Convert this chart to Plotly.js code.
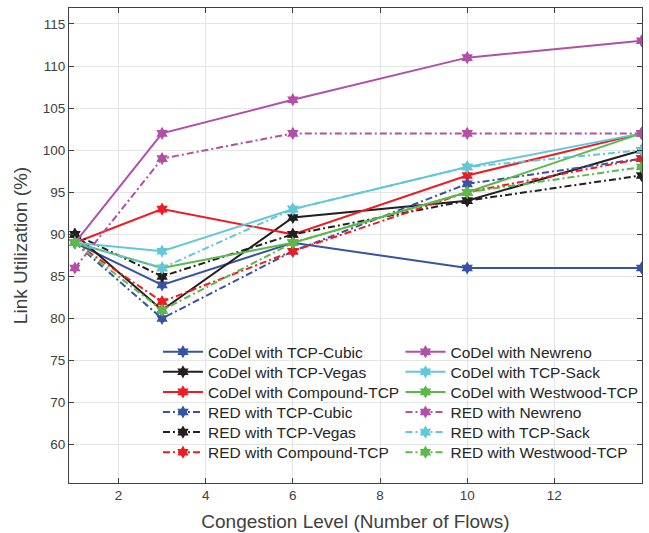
<!DOCTYPE html>
<html>
<head>
<meta charset="utf-8">
<script src="https://cdn.plot.ly/plotly-3.0.1.min.js"></script>
<style>
  html, body { margin: 0; padding: 0; background: #ffffff; }
  #chart { width: 649px; height: 533px; }
</style>
</head>
<body>
<div id="chart"></div>
<script>
// Congestion level (number of flows) on the x axis
const flows = [1, 3, 6, 10, 14];

// Link utilization (%) per queue discipline / TCP variant
const codelCubic    = [89, 84, 89, 86, 86];
const codelVegas    = [90, 81, 92, 94, 100];
const codelCompound = [89, 93, 90, 97, 102];
const redCubic      = [89, 80, 88, 96, 99];
const redVegas      = [90, 85, 90, 94, 97];
const redCompound   = [89, 82, 88, 95, 99];
const codelNewreno  = [89, 102, 106, 111, 113];
const codelSack     = [89, 88, 93, 98, 102];
const codelWestwood = [89, 86, 89, 95, 102];
const redNewreno    = [86, 99, 102, 102, 102];
const redSack       = [89, 86, 93, 98, 100];
const redWestwood   = [89, 81, 89, 95, 98];

// Y tick positions and the labels printed at them
const yTickVals = [65, 70, 75, 80, 85, 90, 95, 100, 105, 110, 115];
const yTickText = ['60', '70', '75', '80', '85', '90', '95', '100', '105', '110', '115'];
const xTickVals = [2, 4, 6, 8, 10, 12, 14];

const BLUE = '#3953a4', BLACK = '#231f20', RED = '#ed1c24';
const MAGENTA = '#b24fa6', CYAN = '#62c8d8', GREEN = '#5cb848';

const FONT = 'Arial, "Liberation Sans", Helvetica, sans-serif';

// Legend is laid out as two columns of six rows; each entry gets its own
// legend box so the row pitch can be tighter than Plotly's default.
const LEGEND_COL_X = [0.155, 0.5775];
const LEGEND_ROW0 = 0.2755;   // paper y of first row centre
const LEGEND_ROW_STEP = 0.0423; // paper units between rows

const seriesDefs = [
  ['CoDel with TCP-Cubic', codelCubic, BLUE, false],
  ['CoDel with TCP-Vegas', codelVegas, BLACK, false],
  ['CoDel with Compound-TCP', codelCompound, RED, false],
  ['RED with TCP-Cubic', redCubic, BLUE, true],
  ['RED with TCP-Vegas', redVegas, BLACK, true],
  ['RED with Compound-TCP', redCompound, RED, true],
  ['CoDel with Newreno', codelNewreno, MAGENTA, false],
  ['CoDel with TCP-Sack', codelSack, CYAN, false],
  ['CoDel with Westwood-TCP', codelWestwood, GREEN, false],
  ['RED with Newreno', redNewreno, MAGENTA, true],
  ['RED with TCP-Sack', redSack, CYAN, true],
  ['RED with Westwood-TCP', redWestwood, GREEN, true]
];

const traces = [];
const legends = {};
seriesDefs.forEach(function (d, i) {
  const legendId = i === 0 ? 'legend' : 'legend' + (i + 1);
  const col = Math.floor(i / 6), row = i % 6;
  traces.push({
    type: 'scatter',
    mode: 'lines+markers',
    name: d[0],
    x: flows,
    y: d[1],
    legend: legendId,
    line: { color: d[2], width: 2, dash: d[3] ? '7px,3px,2px,3px' : 'solid' },
    marker: { symbol: 'hexagram', size: 10, color: d[2], line: { width: 0 } },
    hoverinfo: 'x+y+name'
  });
  legends[legendId] = {
    bgcolor: 'rgba(0,0,0,0)',
    borderwidth: 0,
    font: { family: FONT, size: 15.5, color: '#262626' },
    xanchor: 'left',
    yanchor: 'middle',
    x: LEGEND_COL_X[col],
    y: LEGEND_ROW0 - row * LEGEND_ROW_STEP,
    itemwidth: 40
  };
});

const layout = Object.assign({
  width: 649,
  height: 533,
  paper_bgcolor: '#ffffff',
  plot_bgcolor: '#ffffff',
  margin: { l: 69, r: 6, t: 8, b: 50 },
  font: { family: FONT, color: '#404040' },
  showlegend: true,
  xaxis: {
    range: [0.865, 14.01],
    tickvals: xTickVals,
    ticks: 'inside',
    ticklen: 5,
    tickwidth: 1,
    tickcolor: '#404040',
    showline: true,
    linecolor: '#404040',
    linewidth: 1,
    mirror: 'ticks',
    showgrid: true,
    gridcolor: '#e5e5e5',
    gridwidth: 1,
    zeroline: false,
    tickfont: { family: FONT, size: 13.5, color: '#404040' },
    title: { text: 'Congestion Level (Number of Flows)', font: { family: FONT, size: 19, color: '#404040' }, standoff: 12 }
  },
  yaxis: {
    range: [60.45, 116.9],
    tickvals: yTickVals,
    ticktext: yTickText,
    ticks: 'inside',
    ticklen: 5,
    tickwidth: 1,
    tickcolor: '#404040',
    showline: true,
    linecolor: '#404040',
    linewidth: 1,
    mirror: 'ticks',
    showgrid: true,
    gridcolor: '#e5e5e5',
    gridwidth: 1,
    zeroline: false,
    tickfont: { family: FONT, size: 13.5, color: '#404040' },
    title: { text: 'Link Utilization (%)', font: { family: FONT, size: 19, color: '#404040' }, standoff: 10 }
  }
}, legends);

Plotly.newPlot('chart', traces, layout, { displayModeBar: false, staticPlot: true });
</script>
</body>
</html>
